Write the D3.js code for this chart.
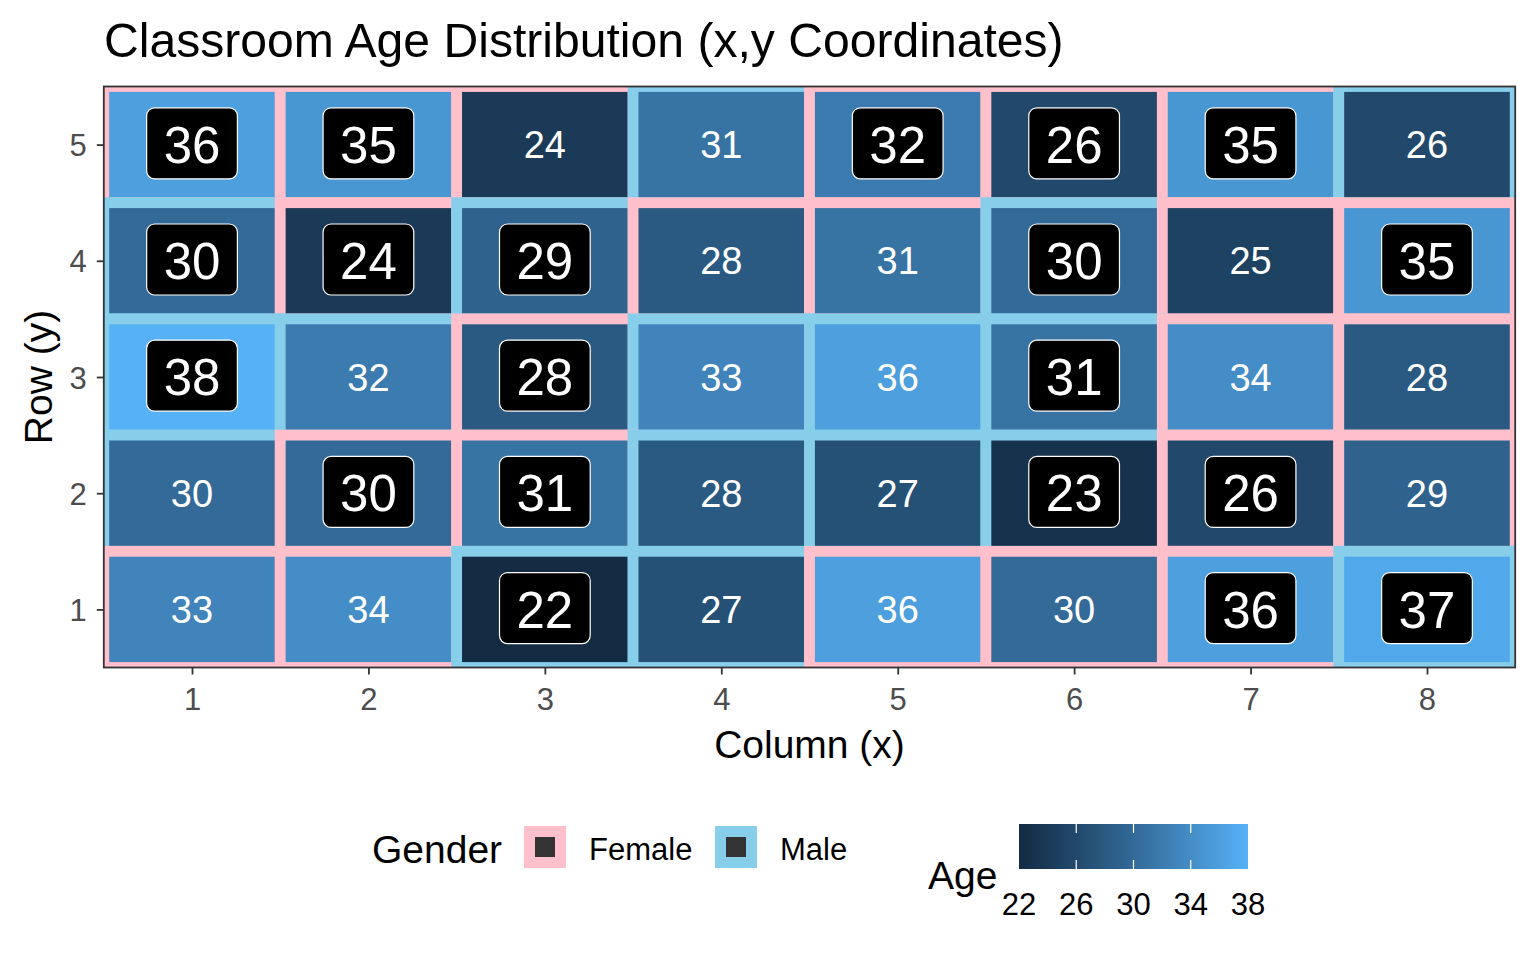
<!DOCTYPE html>
<html>
<head>
<meta charset="utf-8">
<script src="https://cdn.jsdelivr.net/npm/d3@7/dist/d3.min.js"></script>
<style>
  html, body { margin: 0; padding: 0; background: #ffffff; }
  svg { display: block; font-family: "Liberation Sans", Arial, sans-serif; }
</style>
</head>
<body>
<svg id="chart" width="1536" height="960"></svg>
<script>
// ---------------- DATA ----------------
const title = "Classroom Age Distribution (x,y Coordinates)";
const xTicks = [1, 2, 3, 4, 5, 6, 7, 8];
const yTicks = [1, 2, 3, 4, 5];
// rows listed from top (y = 5) to bottom (y = 1), columns x = 1..8
const rowOrder = [5, 4, 3, 2, 1];
const ageRows = [
  [36, 35, 24, 31, 32, 26, 35, 26],
  [30, 24, 29, 28, 31, 30, 25, 35],
  [38, 32, 28, 33, 36, 31, 34, 28],
  [30, 30, 31, 28, 27, 23, 26, 29],
  [33, 34, 22, 27, 36, 30, 36, 37]
];
const genderRows = [
  ["F", "F", "F", "M", "F", "F", "F", "M"],
  ["M", "F", "M", "F", "F", "M", "F", "F"],
  ["M", "M", "F", "M", "M", "M", "F", "F"],
  ["M", "F", "F", "M", "M", "M", "F", "F"],
  ["F", "F", "M", "M", "F", "F", "F", "M"]
];
const highlightRows = [
  [1, 1, 0, 0, 1, 1, 1, 0],
  [1, 1, 1, 0, 0, 1, 0, 1],
  [1, 0, 1, 0, 0, 1, 0, 0],
  [0, 1, 1, 0, 0, 1, 1, 0],
  [0, 0, 1, 0, 0, 0, 1, 1]
];
const genderKeys = ["F", "M"];
const genderLabels = ["Female", "Male"];
const genderColors = ["#FFC0CB", "#87CEEB"];
const ageLimits = [22, 38];
const ageTicks = [22, 26, 30, 34, 38];

// Build tile records (drawing order: top row first, left to right)
const tiles = [];
rowOrder.forEach((yv, r) => {
  xTicks.forEach((xv, c) => {
    tiles.push({ x: xv, y: yv, age: ageRows[r][c], gender: genderRows[r][c], hl: highlightRows[r][c] === 1 });
  });
});

// ---------------- LAYOUT ----------------
const svg = d3.select("#chart");
const P = { left: 103.8, right: 1515.2, top: 86.5, bottom: 667.5 };
const x = d3.scaleLinear().domain([0.5, 8.5]).range([P.left, P.right]);
const y = d3.scaleLinear().domain([0.5, 5.5]).range([P.bottom, P.top]);
const fill = d3.scaleLinear().domain(ageLimits).range(["#132B43", "#56B1F7"]).interpolate(d3.interpolateLab);
const col = d3.scaleOrdinal().domain(genderKeys).range(genderColors);

const FONT_AXIS = 31, FONT_TITLE = 48.1, FONT_AXTITLE = 39;
const STROKE = 10.8;

svg.append("rect").attr("width", 1536).attr("height", 960).attr("fill", "#ffffff");

// Title
svg.append("text").attr("x", 104).attr("y", 57)
  .attr("font-size", FONT_TITLE).attr("fill", "#000").text(title);

// Panel
const defs = svg.append("defs");
defs.append("clipPath").attr("id", "panelClip").append("rect")
  .attr("x", P.left).attr("y", P.top).attr("width", P.right - P.left).attr("height", P.bottom - P.top);

const panel = svg.append("g").attr("clip-path", "url(#panelClip)");
panel.append("rect").attr("x", P.left).attr("y", P.top)
  .attr("width", P.right - P.left).attr("height", P.bottom - P.top).attr("fill", "#ffffff");

const uw = x(1.5) - x(0.5);
const uh = y(0.5) - y(1.5);

panel.selectAll("rect.tile").data(tiles).enter().append("rect")
  .attr("class", "tile")
  .attr("x", d => x(d.x - 0.5))
  .attr("y", d => y(d.y + 0.5))
  .attr("width", uw)
  .attr("height", uh)
  .attr("fill", d => fill(d.age))
  .attr("stroke", d => col(d.gender))
  .attr("stroke-width", STROKE)
  .attr("stroke-linejoin", "miter");

// Plain text labels
panel.selectAll("text.plain").data(tiles.filter(d => !d.hl)).enter().append("text")
  .attr("class", "plain")
  .attr("x", d => x(d.x))
  .attr("y", d => y(d.y) + 38 * 0.36)
  .attr("text-anchor", "middle")
  .attr("font-size", 38)
  .attr("fill", "#ffffff")
  .text(d => d.age);

// Highlight labels (boxed)
const lab = panel.selectAll("g.lab").data(tiles.filter(d => d.hl)).enter().append("g").attr("class", "lab");
const BIG = 51;
lab.append("rect")
  .attr("x", d => x(d.x) - (BIG * 0.556 * String(d.age).length + 34) / 2)
  .attr("y", d => y(d.y) - 1.3 - 35.5)
  .attr("width", d => BIG * 0.556 * String(d.age).length + 34)
  .attr("height", 71)
  .attr("rx", 8).attr("ry", 8)
  .attr("fill", "#000000")
  .attr("stroke", "#ffffff")
  .attr("stroke-width", 1.2);
lab.append("text")
  .attr("x", d => x(d.x))
  .attr("y", d => y(d.y) + BIG * 0.355)
  .attr("text-anchor", "middle")
  .attr("font-size", BIG)
  .attr("fill", "#ffffff")
  .text(d => d.age);

// Panel border
svg.append("rect").attr("x", P.left).attr("y", P.top)
  .attr("width", P.right - P.left).attr("height", P.bottom - P.top)
  .attr("fill", "none").attr("stroke", "#333333").attr("stroke-width", 1.8);

// Axes
const xAxis = svg.append("g").attr("transform", `translate(0,${P.bottom})`)
  .call(d3.axisBottom(x).tickValues(xTicks).tickFormat(d3.format("d")).tickSize(7).tickPadding(4));
const yAxis = svg.append("g").attr("transform", `translate(${P.left},0)`)
  .call(d3.axisLeft(y).tickValues(yTicks).tickFormat(d3.format("d")).tickSize(7).tickPadding(6));
[xAxis, yAxis].forEach(a => {
  a.select(".domain").remove();
  a.selectAll(".tick line").attr("stroke", "#333333").attr("stroke-width", 1.8);
  a.selectAll(".tick text").attr("fill", "#4D4D4D").attr("font-size", FONT_AXIS)
    .attr("font-family", "Liberation Sans, Arial, sans-serif");
});
xAxis.selectAll(".tick text").attr("dy", null).attr("y", 42);
yAxis.selectAll(".tick text").attr("dy", null).attr("y", 11).attr("x", -17);

// Axis titles
svg.append("text").attr("x", (P.left + P.right) / 2).attr("y", 758)
  .attr("text-anchor", "middle").attr("font-size", FONT_AXTITLE).attr("fill", "#000").text("Column (x)");
svg.append("text").attr("transform", `translate(52,${(P.top + P.bottom) / 2}) rotate(-90)`)
  .attr("text-anchor", "middle").attr("font-size", FONT_AXTITLE).attr("fill", "#000").text("Row (y)");

// Gender legend
svg.append("text").attr("x", 372).attr("y", 863).attr("font-size", 39).attr("fill", "#000").text("Gender");
const keyX = [545, 736];
const labX = [589, 780];
genderKeys.forEach((g, i) => {
  svg.append("rect").attr("x", keyX[i] - 15.5).attr("y", 847 - 15.5).attr("width", 31).attr("height", 31)
    .attr("fill", "#333333").attr("stroke", col(g)).attr("stroke-width", 11);
  svg.append("rect").attr("x", keyX[i] - 10).attr("y", 847 - 10).attr("width", 20).attr("height", 20)
    .attr("fill", "#333333");
  svg.append("text").attr("x", labX[i]).attr("y", 860).attr("font-size", 31).attr("fill", "#000").text(genderLabels[i]);
});

// Age colourbar legend
svg.append("text").attr("x", 928).attr("y", 889).attr("font-size", 39).attr("fill", "#000").text("Age");
const cb = { x0: 1019, x1: 1248, y0: 824, y1: 869 };
const cbx = d3.scaleLinear().domain(ageLimits).range([cb.x0, cb.x1]);
const grad = defs.append("linearGradient").attr("id", "ageGrad").attr("x1", "0%").attr("x2", "100%").attr("y1", "0%").attr("y2", "0%");
d3.range(0, 1.0001, 0.05).forEach(t => {
  grad.append("stop").attr("offset", (t * 100) + "%").attr("stop-color", fill(ageLimits[0] + t * (ageLimits[1] - ageLimits[0])));
});
svg.append("rect").attr("x", cb.x0).attr("y", cb.y0).attr("width", cb.x1 - cb.x0).attr("height", cb.y1 - cb.y0)
  .attr("fill", "url(#ageGrad)");
const cbTicks = svg.append("g");
ageTicks.forEach(t => {
  const tx = cbx(t);
  if (t !== ageLimits[0] && t !== ageLimits[1]) {
    cbTicks.append("line").attr("x1", tx).attr("x2", tx).attr("y1", cb.y0).attr("y2", cb.y0 + 9)
      .attr("stroke", "#ffffff").attr("stroke-width", 1.2);
    cbTicks.append("line").attr("x1", tx).attr("x2", tx).attr("y1", cb.y1 - 9).attr("y2", cb.y1)
      .attr("stroke", "#ffffff").attr("stroke-width", 1.2);
  }
  cbTicks.append("text").attr("x", tx).attr("y", 915).attr("text-anchor", "middle")
    .attr("font-size", 31).attr("fill", "#000").text(t);
});
</script>
</body>
</html>
